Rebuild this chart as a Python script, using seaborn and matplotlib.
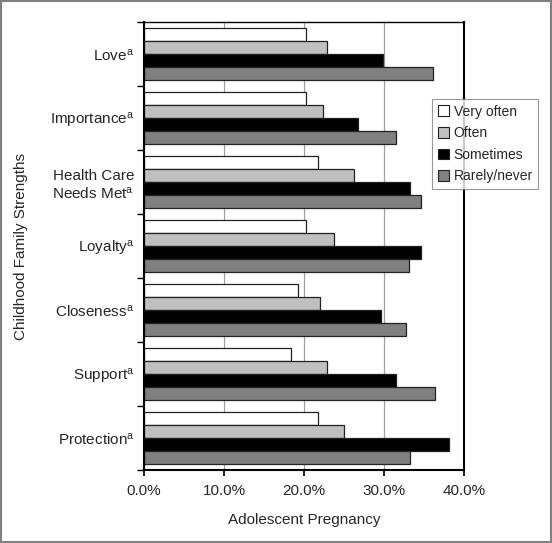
import matplotlib
matplotlib.use("Agg")
import matplotlib.pyplot as plt
import seaborn as sns
import pandas as pd
import numpy as np
from matplotlib.ticker import FixedLocator, FuncFormatter
from matplotlib.patches import Rectangle

categories = ["Love", "Importance", "Health Care\nNeeds Met", "Loyalty",
              "Closeness", "Support", "Protection"]
freq_levels = ["Very often", "Often", "Sometimes", "Rarely/never"]
very_often = [20.2, 20.2, 21.8, 20.2, 19.2, 18.4, 21.8]
often = [22.9, 22.4, 26.2, 23.7, 22.0, 22.9, 25.0]
sometimes = [29.9, 26.8, 33.2, 34.6, 29.6, 31.5, 38.1]
rarely_never = [36.1, 31.5, 34.6, 33.1, 32.8, 36.4, 33.3]
x_ticks = [0, 10, 20, 30, 40]

sns.set_theme(style="white")
plt.rcParams['font.family'] = ['Liberation Sans', 'DejaVu Sans']
plt.rcParams['mathtext.fontset'] = 'custom'
plt.rcParams['mathtext.rm'] = 'Liberation Sans'
plt.rcParams['mathtext.it'] = 'Liberation Sans'

rows = []
for series, name in zip([very_often, often, sometimes, rarely_never], freq_levels):
    for c, v in zip(categories, series):
        rows.append({"cat": c, "freq": name, "val": v})
df = pd.DataFrame(rows)

palette = {"Very often": "#FFFFFF", "Often": "#C0C0C0",
           "Sometimes": "#000000", "Rarely/never": "#808080"}

fig = plt.figure(figsize=(5.52, 5.43), dpi=100)
ax = fig.add_axes([144/552, 1-470/543, 320/552, 448/543])

sns.barplot(data=df, y="cat", x="val", hue="freq", order=categories,
            hue_order=freq_levels, palette=palette, orient="h", width=0.8,
            edgecolor="#222222", linewidth=0.9, ax=ax, legend=True, saturation=1)

ax.set_xlim(0, 40)
ax.set_ylim(6.5, -0.5)
ax.set_xticks(x_ticks)
ax.xaxis.set_major_formatter(FuncFormatter(lambda v, p: f"{v:.1f}%"))
ax.grid(axis="x", color="#A0A0A0", linewidth=0.9)
ax.set_axisbelow(True)

labels = []
for c in categories:
    if "\n" in c:
        a, b = c.split("\n")
        labels.append(a + "\n" + b + "$^{\\mathrm{a}}$")
    else:
        labels.append(c + "$^{\\mathrm{a}}$")
ax.set_yticks(range(len(categories)))
ax.set_yticklabels(labels, fontsize=11, ha="right", multialignment="center")
ax.tick_params(axis="y", which="major", length=0, pad=7)
ax.yaxis.set_minor_locator(FixedLocator(np.arange(-0.5, 7, 1)))
ax.tick_params(axis="y", which="minor", length=5, width=1, color="black", direction="out", left=True)
ax.tick_params(axis="x", labelsize=11, length=4, color="black", direction="out", bottom=True, pad=6)

for s in ax.spines.values():
    s.set_color("black")
    s.set_linewidth(1.0)
ax.spines["left"].set_linewidth(1.5)
ax.spines["bottom"].set_linewidth(1.5)
ax.spines["right"].set_linewidth(1.5)

ax.set_xlabel("Adolescent Pregnancy", fontsize=11, labelpad=11)
ax.set_ylabel("Childhood Family Strengths", fontsize=11, labelpad=0)
ax.yaxis.set_label_coords(-(144 - 28) / 320, 0.5)

leg = ax.legend(loc="upper left", bbox_to_anchor=(432/552, 1-99/543),
                bbox_transform=fig.transFigure, fontsize=10, frameon=True,
                fancybox=False, edgecolor="#808080", handlelength=0.8,
                handleheight=0.8, handletextpad=0.35, borderpad=0.4,
                labelspacing=0.55, borderaxespad=0)
leg.get_frame().set_linewidth(0.8)
for h in leg.legend_handles:
    h.set_edgecolor("#222222")
    h.set_linewidth(0.8)

fig.patches.append(Rectangle((0.001, 0.001), 0.998, 0.998, transform=fig.transFigure,
                             fill=False, edgecolor="#808080", linewidth=1.5))

fig.savefig("out.png", dpi=100)
